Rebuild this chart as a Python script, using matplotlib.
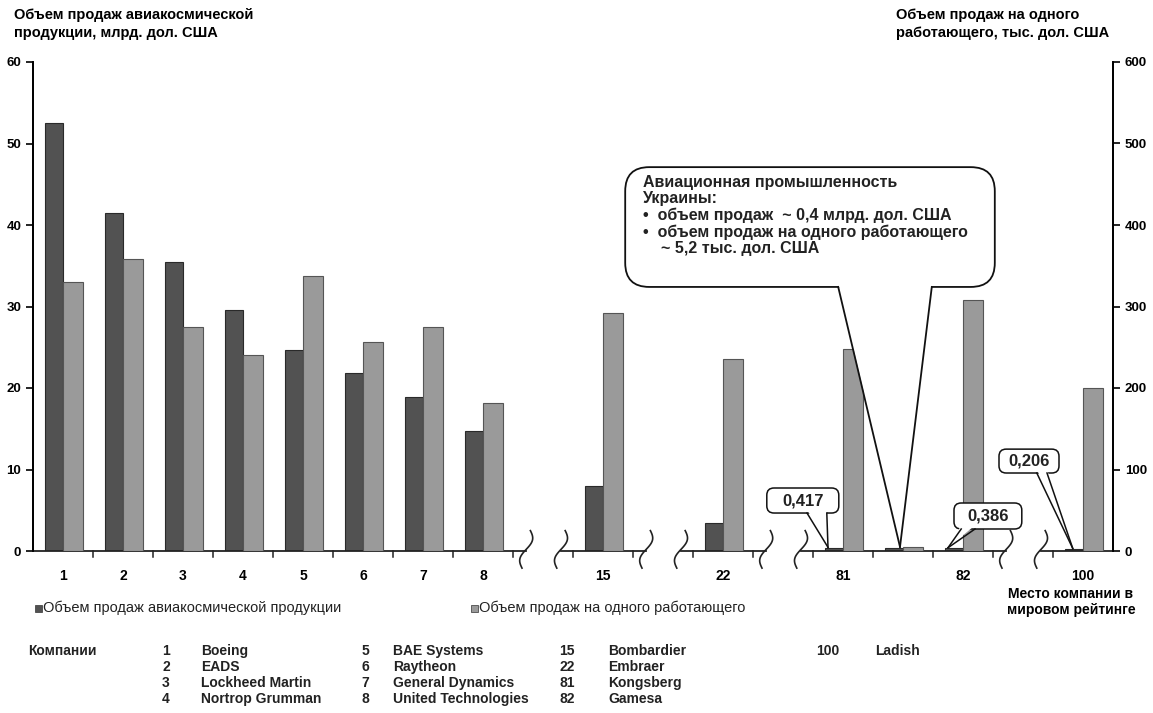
import numpy as np
import matplotlib
matplotlib.use("Agg")
import matplotlib.pyplot as plt
from matplotlib.patches import FancyBboxPatch, Polygon, Rectangle

plt.rcParams['font.family'] = ['Liberation Sans', 'DejaVu Sans']

# --- data ---
# None marks an axis break slot, '' is the unlabeled Ukraine slot
rank_labels = ['1', '2', '3', '4', '5', '6', '7', '8', None, '15', None, '22',
               None, '81', '', '82', None, '100']
sales_bn = [52.5, 41.5, 35.5, 29.6, 24.7, 21.8, 18.9, 14.7, 8.0, 3.4,
            0.417, 0.4, 0.386, 0.206]
per_worker_k = [330, 358, 275, 241, 337, 256, 275, 181, 292, 236,
                248, 5.2, 308, 200]

company_ranks = ['1', '2', '3', '4', '5', '6', '7', '8', '15', '22', '81', '82', '100']
company_names = ['Boeing', 'EADS', 'Lockheed Martin', 'Nortrop Grumman',
                 'BAE Systems', 'Raytheon', 'General Dynamics', 'United Technologies',
                 'Bombardier', 'Embraer', 'Kongsberg', 'Gamesa', 'Ladish']

DARK = '#525252'
LIGHT = '#9a9a9a'

pos = np.array([i for i, l in enumerate(rank_labels) if l is not None])
gaps = [i for i, l in enumerate(rank_labels) if l is None]

fig = plt.figure(figsize=(11.53, 7.13), dpi=100)
W, H = 1153, 713
ax = fig.add_axes([33 / W, 1 - 551 / H, 1080 / W, 489 / H])
ax2 = ax.twinx()

ax.bar(pos - 0.15, sales_bn, width=0.3, color=DARK, edgecolor='#2a2a2a', linewidth=0.8, zorder=3)
ax2.bar(pos + 0.165, per_worker_k, width=0.33, color=LIGHT, edgecolor='#555555', linewidth=0.8, zorder=3)

ax.set_xlim(-0.5, len(rank_labels) - 0.5)
ax.set_ylim(0, 60)
ax2.set_ylim(0, 600)
ax.set_yticks(np.arange(0, 61, 10))
ax2.set_yticks(np.arange(0, 601, 100))

for a in (ax, ax2):
    a.spines['top'].set_visible(False)
    a.spines['bottom'].set_visible(False)
    a.spines['left'].set_linewidth(1.3)
    a.spines['right'].set_linewidth(1.3)
    a.tick_params(axis='y', length=5, width=1.2, labelsize=9.5)
    for t in a.get_yticklabels():
        t.set_fontweight('bold')

ax.set_xticks(pos)
ax.set_xticklabels([rank_labels[i] for i in pos], fontsize=10, fontweight='bold')
ax.tick_params(axis='x', length=0, pad=13)
ax2.tick_params(axis='x', length=0)

# broken x axis line + boundary ticks
seg_edges = [-0.5]
for g in gaps:
    seg_edges += [g - 0.28, g + 0.3]
seg_edges.append(len(rank_labels) - 0.5)
for a0, a1 in zip(seg_edges[::2], seg_edges[1::2]):
    ax.plot([a0, a1], [0, 0], color='#222222', lw=1.3, clip_on=False, zorder=4)
for b in np.arange(0.5, len(rank_labels) - 1, 1.0):
    ax.plot([b, b], [0, -0.7], color='#222222', lw=1.1, clip_on=False, zorder=4)

t = np.linspace(0, 1, 40)
for g in gaps:
    for x0 in (g - 0.28, g + 0.3):
        xs = x0 + 0.07 * np.sin(2 * np.pi * t) - 0.14 * (t - 0.5)
        ys = 2.5 - 4.6 * t
        ax.plot(xs, ys, color='#222222', lw=1.2, clip_on=False, zorder=4)

# callouts drawn in left-axis data coordinates
ASPECT = (60 / 489) / (18 / 1080)


def callout(x0, x1, y0, y1, base, tip, rnd, lw):
    box = FancyBboxPatch((x0, y0), x1 - x0, y1 - y0,
                         boxstyle=f"round,pad=0,rounding_size={rnd}",
                         mutation_aspect=ASPECT, transform=ax.transData,
                         facecolor='white', edgecolor='#111111', lw=lw,
                         zorder=8, clip_on=False)
    ax2.add_patch(box)
    cover = Polygon([(base[0], y0 + 0.45), tip, (base[1], y0 + 0.45)], closed=True,
                    transform=ax.transData, facecolor='white', edgecolor='none',
                    zorder=9, clip_on=False)
    ax2.add_patch(cover)
    for bx in base:
        ax2.plot([bx, tip[0]], [y0, tip[1]], transform=ax.transData,
                 color='#111111', lw=lw, zorder=10, clip_on=False)


callout(9.37, 15.53, 32.4, 47.1, (12.92, 14.48), (13.95, 0.5), 0.4, 1.3)
ax2.text(9.67, 46.1, "Авиационная промышленность\nУкраины:\n"
         "•  объем продаж  ~ 0,4 млрд. дол. США\n"
         "•  объем продаж на одного работающего\n"
         "    ~ 5,2 тыс. дол. США",
         transform=ax.transData, fontsize=11.5, fontweight='bold', va='top',
         ha='left', linespacing=1.1, color='#222222', zorder=11)

small = [
    (11.73, 12.93, 4.66, 7.73, (12.40, 12.73), (12.75, 0.45), '0,417'),
    (14.85, 15.98, 2.70, 5.89, (14.97, 15.20), (14.75, 0.4), '0,386'),
    (15.60, 16.60, 9.57, 12.50, (16.23, 16.40), (16.83, 0.3), '0,206'),
]
for x0, x1, y0, y1, base, tip, txt in small:
    callout(x0, x1, y0, y1, base, tip, 0.12, 1.1)
    ax2.text((x0 + x1) / 2, (y0 + y1) / 2, txt, transform=ax.transData,
             fontsize=12, fontweight='bold', ha='center', va='center',
             color='#222222', zorder=11)

# axis titles
fig.text(14 / W, 1 - 8 / H, "Объем продаж авиакосмической\nпродукции, млрд. дол. США",
         fontsize=10.5, fontweight='bold', va='top', ha='left', linespacing=1.35)
fig.text(896 / W, 1 - 8 / H, "Объем продаж на одного\nработающего, тыс. дол. США",
         fontsize=10.5, fontweight='bold', va='top', ha='left', linespacing=1.35)
fig.text(1071 / W, 1 - 587 / H, "Место компании в\nмировом рейтинге",
         fontsize=10, fontweight='bold', va='top', ha='center', linespacing=1.2)

# legend
for lx, col, txt in [(35, DARK, "Объем продаж авиакосмической продукции"),
                     (471, LIGHT, "Объем продаж на одного работающего")]:
    fig.patches.append(Rectangle((lx / W, 1 - 612 / H), 7 / W, 7 / H, transform=fig.transFigure,
                                 facecolor=col, edgecolor='#333333', lw=0.5))
    fig.text((lx + 8) / W, 1 - 608 / H, txt, fontsize=10.5, va='center', ha='left',
             color='#222222')

# companies table
row_y = [651, 667, 683, 699]
col_num_x = [166, 365, 567, 828]
col_name_x = [201, 393, 608, 875]
fig.text(28 / W, 1 - row_y[0] / H, "Компании", fontsize=10, fontweight='bold',
         va='center', ha='left', color='#222222')
for k, (rk, nm) in enumerate(zip(company_ranks, company_names)):
    c, r = divmod(k, 4)
    fig.text(col_num_x[c] / W, 1 - row_y[r] / H, rk, fontsize=10, fontweight='bold',
             va='center', ha='center', color='#222222')
    fig.text(col_name_x[c] / W, 1 - row_y[r] / H, nm, fontsize=10, fontweight='bold',
             va='center', ha='left', color='#222222')

fig.savefig("out.png", dpi=100)
